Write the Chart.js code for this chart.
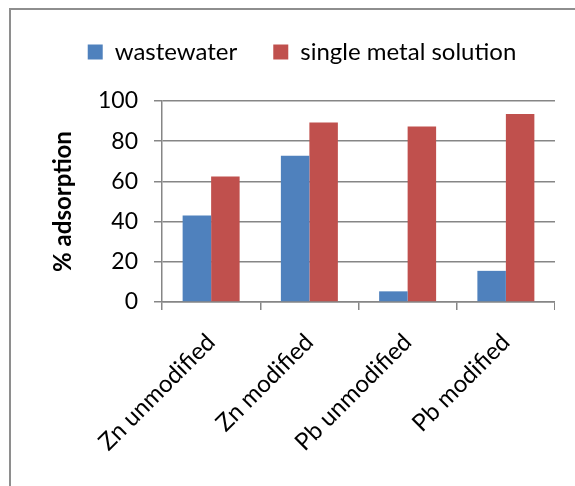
<!DOCTYPE html>
<html>
<head>
<meta charset="utf-8">
<script src="https://cdn.jsdelivr.net/npm/chart.js@4.4.1/dist/chart.umd.min.js"></script>
<style>
  html, body { margin: 0; padding: 0; background: #fff; overflow: hidden; }
  #frame {
    position: absolute; left: 9px; top: 8px; width: 620px; height: 520px;
    border-left: 2px solid #8e8e8e; border-top: 2px solid #8e8e8e;
  }
  /* el lienzo empieza en x=49 para que la leyenda quede centrada en el marco */
  #wrap { position: absolute; left: 49px; top: 0; width: 506px; height: 486px; }
</style>
</head>
<body>
<div id="frame"></div>
<div id="wrap"><canvas id="grafico"></canvas></div>
<script>
// Datos del gráfico
const categorias = ["Zn unmodified", "Zn modified", "Pb unmodified", "Pb modified"];
const aguaResidual = [43, 72.8, 5.3, 15.5];
const solucionSimple = [62.5, 89.3, 87.3, 93.5];
const ticksY = [0, 20, 40, 60, 80, 100];

const fuente = "Lato, 'Open Sans', sans-serif";
const gris = "#868686";

// Espacio extra bajo la leyenda (la leyenda no tiene afterFit)
const espacioLeyenda = {
  id: "espacioLeyenda",
  beforeInit(chart) {
    const leyenda = chart.legend;
    if (!leyenda) return;
    const fitOriginal = leyenda.fit.bind(leyenda);
    leyenda.fit = function () {
      fitOriginal();
      this.height += 27;
    };
  }
};

const ctx = document.getElementById("grafico").getContext("2d");

new Chart(ctx, {
  type: "bar",
  data: {
    labels: categorias,
    datasets: [
      {
        label: "wastewater",
        data: aguaResidual,
        backgroundColor: "#4F81BD",
        categoryPercentage: 0.58,
        barPercentage: 1
      },
      {
        label: "single metal solution",
        data: solucionSimple,
        backgroundColor: "#C0504D",
        categoryPercentage: 0.58,
        barPercentage: 1
      }
    ]
  },
  plugins: [espacioLeyenda],
  options: {
    responsive: true,
    maintainAspectRatio: false,
    animation: false,
    layout: { padding: { top: 4, right: 0, bottom: 0, left: 0 } },
    plugins: {
      legend: {
        position: "top",
        labels: {
          font: { family: fuente, size: 24 },
          color: "#000",
          boxWidth: 15,
          boxHeight: 15,
          padding: 36
        }
      },
      tooltip: { enabled: false }
    },
    scales: {
      x: {
        offset: true,
        grid: {
          offset: true,
          drawOnChartArea: false,
          drawTicks: true,
          tickLength: 8,
          color: gris,
          lineWidth: 1.5
        },
        border: { color: gris, width: 1.5 },
        ticks: {
          font: { family: fuente, size: 24 },
          color: "#000",
          maxRotation: 45,
          minRotation: 45,
          padding: 18
        },
        afterFit: (scale) => { scale.height = 184; }
      },
      y: {
        min: 0,
        max: 100,
        afterBuildTicks: (scale) => { scale.ticks = ticksY.map(v => ({ value: v })); },
        grid: { color: gris, lineWidth: 1.5, tickLength: 8 },
        border: { color: gris, width: 1.5 },
        ticks: {
          font: { family: fuente, size: 23 },
          color: "#000",
          padding: 16
        },
        title: {
          display: true,
          text: "% adsorption",
          font: { family: fuente, size: 24, weight: "bold" },
          color: "#000",
          padding: { top: 0, bottom: 0 }
        },
        afterFit: (scale) => { scale.width = 113; }
      }
    }
  }
});
</script>
</body>
</html>
